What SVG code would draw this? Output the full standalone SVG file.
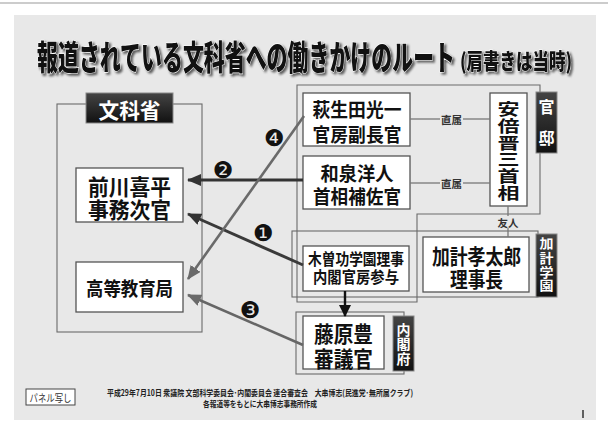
<svg xmlns="http://www.w3.org/2000/svg" width="608" height="430" viewBox="0 0 608 430">
<style>
text{font-family:"Noto Sans CJK JP","Noto Sans",sans-serif;dominant-baseline:central;text-anchor:middle}
.box{fill:#fff;stroke:#555;stroke-width:1.3}
.grp{fill:none;stroke:#6a6a6a;stroke-width:1.1}
.lbl{fill:url(#dark);stroke:#888;stroke-width:1}
.n{font-weight:700;fill:#111}
.w{font-weight:700;fill:#fff}
.num{font-family:"DejaVu Sans",sans-serif;font-size:23px;fill:#111}
.link{stroke:#777;stroke-width:1.3}
.small{font-size:10.5px;font-weight:700;fill:#333}
.foot{font-size:8.5px;fill:#222;font-weight:600}
.ttl{font-weight:900;fill:#111;stroke:#fff;paint-order:stroke;filter:drop-shadow(2px 2px 1px rgba(60,60,60,0.8))}
</style>
<defs>
<linearGradient id="dark" x1="0" y1="0" x2="0" y2="1">
<stop offset="0" stop-color="#444"/><stop offset="1" stop-color="#111"/>
</linearGradient>
<marker id="ah1" markerUnits="userSpaceOnUse" markerWidth="14" markerHeight="12" refX="13" refY="6" orient="auto"><path d="M0,0 L14,6 L0,12 Z" fill="#333"/></marker>
<marker id="ah2" markerUnits="userSpaceOnUse" markerWidth="14" markerHeight="12" refX="13" refY="6" orient="auto"><path d="M0,0 L14,6 L0,12 Z" fill="#6a6a6a"/></marker>
<marker id="ah3" markerUnits="userSpaceOnUse" markerWidth="12" markerHeight="12" refX="11" refY="6" orient="auto"><path d="M0,0 L12,6 L0,12 Z" fill="#111"/></marker>
</defs>
<rect x="0" y="0" width="608" height="430" fill="#fff"/>
<line x1="0" y1="3" x2="608" y2="3" stroke="#bbb" stroke-width="1.5"/>
<rect x="14" y="15" width="582" height="405" fill="#e8e8e8"/>

<g id="title">
<text class="ttl" x="246" y="55" font-size="34" stroke-width="1.2" textLength="418" lengthAdjust="spacingAndGlyphs">報道されている文科省への働きかけのルート</text>
<text class="ttl" x="516" y="59" font-size="22" stroke-width="1" textLength="112" lengthAdjust="spacingAndGlyphs">(肩書きは当時)</text>
</g>

<g id="monkasho">
<rect class="grp" x="57" y="104" width="145" height="228"/>
<rect class="lbl" x="86" y="93" width="87" height="30"/>
<text class="w" x="129.5" y="108.5" font-size="21" textLength="62" lengthAdjust="spacingAndGlyphs">文科省</text>
</g>
<g id="maekawa">
<rect class="box" x="76" y="168" width="107" height="54"/>
<text class="n" x="129.5" y="185" font-size="22" textLength="83" lengthAdjust="spacingAndGlyphs">前川喜平</text>
<text class="n" x="129.5" y="208" font-size="22" textLength="83" lengthAdjust="spacingAndGlyphs">事務次官</text>
</g>
<g id="koto">
<rect class="box" x="76" y="262" width="107" height="50"/>
<text class="n" x="129.5" y="287" font-size="19" textLength="87" lengthAdjust="spacingAndGlyphs">高等教育局</text>
</g>

<g id="kantei">
<path class="grp" d="M297,85 H540 V214 H417 V302 H297 Z"/>
<rect class="lbl" x="536" y="92" width="21" height="61"/>
<text class="w" x="546.5" y="106" font-size="16">官</text>
<text class="w" x="546.5" y="137" font-size="16">邸</text>
</g>
<g id="kakegakuen">
<rect class="grp" x="292" y="231" width="246" height="66"/>
<rect class="lbl" x="536" y="234" width="21" height="63"/>
<g transform="translate(546.5,0) scale(1,0.9)">
<text class="w" x="0" y="270" font-size="14">加</text>
<text class="w" x="0" y="286.7" font-size="14">計</text>
<text class="w" x="0" y="302.2" font-size="14">学</text>
<text class="w" x="0" y="317" font-size="14">園</text>
</g>
</g>
<g id="naikakufu">
<rect class="grp" x="296" y="312" width="108" height="62"/>
<rect class="lbl" x="393" y="316" width="21" height="55"/>
<text class="w" x="403.5" y="328.5" font-size="14">内</text>
<text class="w" x="403.5" y="343" font-size="14">閣</text>
<text class="w" x="403.5" y="357.5" font-size="14">府</text>
</g>

<g id="hagiuda">
<rect class="box" x="303" y="93" width="107" height="53"/>
<text class="n" x="357" y="108" font-size="19" textLength="89" lengthAdjust="spacingAndGlyphs">萩生田光一</text>
<text class="n" x="357" y="133" font-size="19" textLength="89" lengthAdjust="spacingAndGlyphs">官房副長官</text>
</g>
<g id="izumi">
<rect class="box" x="303" y="156" width="107" height="53"/>
<text class="n" x="357" y="172" font-size="19" textLength="73" lengthAdjust="spacingAndGlyphs">和泉洋人</text>
<text class="n" x="357" y="195" font-size="19" textLength="88" lengthAdjust="spacingAndGlyphs">首相補佐官</text>
</g>
<g id="abe">
<rect class="box" x="490" y="93" width="37" height="113"/>
<g transform="translate(508.5,0) scale(1.05,0.76)">
<text class="n" x="0" y="142.6" font-size="21">安</text>
<text class="n" x="0" y="164.7" font-size="21">倍</text>
<text class="n" x="0" y="186.8" font-size="21">晋</text>
<text class="n" x="0" y="208.9" font-size="21">三</text>
<text class="n" x="0" y="231" font-size="21">首</text>
<text class="n" x="0" y="253.1" font-size="21">相</text>
</g>
</g>
<g id="kiso">
<rect class="box" x="303" y="246" width="106" height="45"/>
<text class="n" x="356" y="257.5" font-size="16" textLength="96" lengthAdjust="spacingAndGlyphs">木曽功学園理事</text>
<text class="n" x="356" y="276" font-size="16" textLength="86" lengthAdjust="spacingAndGlyphs">内閣官房参与</text>
</g>
<g id="kake">
<rect class="box" x="423" y="237" width="106" height="55"/>
<text class="n" x="476.5" y="255" font-size="21" textLength="89" lengthAdjust="spacingAndGlyphs">加計孝太郎</text>
<text class="n" x="476.5" y="278" font-size="21" textLength="53" lengthAdjust="spacingAndGlyphs">理事長</text>
</g>
<g id="fujiwara">
<rect class="box" x="303" y="316" width="81" height="53"/>
<text class="n" x="343.5" y="332" font-size="22" textLength="59" lengthAdjust="spacingAndGlyphs">藤原豊</text>
<text class="n" x="343.5" y="356.5" font-size="22" textLength="59" lengthAdjust="spacingAndGlyphs">審議官</text>
</g>

<g id="connectors">
<line class="link" x1="410" y1="119" x2="440" y2="119"/>
<line class="link" x1="463" y1="119" x2="490" y2="119"/>
<text class="small" x="451.5" y="119">直属</text>
<line class="link" x1="410" y1="183" x2="440" y2="183"/>
<line class="link" x1="463" y1="183" x2="490" y2="183"/>
<text class="small" x="451.5" y="183">直属</text>
<line class="link" x1="508" y1="206" x2="508" y2="216" stroke="#444"/>
<line class="link" x1="508" y1="228" x2="508" y2="237" stroke="#444"/>
<text class="small" x="508" y="222" font-size="11">友人</text>

<line x1="303" y1="180" x2="188" y2="180" stroke="#333" stroke-width="3" marker-end="url(#ah1)"/>
<line x1="303" y1="265" x2="188" y2="214" stroke="#3a3a3a" stroke-width="3" marker-end="url(#ah1)"/>
<line x1="304" y1="116" x2="188" y2="279" stroke="#6a6a6a" stroke-width="2.6" marker-end="url(#ah2)"/>
<line x1="303" y1="345" x2="188" y2="295" stroke="#666" stroke-width="2.6" marker-end="url(#ah2)"/>
<line x1="345" y1="291" x2="345" y2="316" stroke="#111" stroke-width="2.4" marker-end="url(#ah3)"/>

<text class="num" x="223" y="170">❷</text>
<text class="num" x="263" y="233">❶</text>
<text class="num" x="274" y="138">❹</text>
<text class="num" x="250" y="310">❸</text>
</g>

<text class="foot" x="260" y="392" textLength="306" lengthAdjust="spacingAndGlyphs">平成29年7月10日 衆議院 文部科学委員会･内閣委員会 連合審査会　大串博志(民進党･無所属クラブ)</text>
<text class="foot" x="260" y="403" textLength="114" lengthAdjust="spacingAndGlyphs">各報道等をもとに大串博志事務所作成</text>
<rect x="26" y="389" width="49" height="16" fill="#fff" stroke="#444" stroke-width="1"/>
<text x="50.5" y="397" font-size="10" fill="#333" textLength="42" lengthAdjust="spacingAndGlyphs">パネル写し</text>
<line x1="583" y1="410" x2="583" y2="418" stroke="#333" stroke-width="1.5"/>
</svg>
